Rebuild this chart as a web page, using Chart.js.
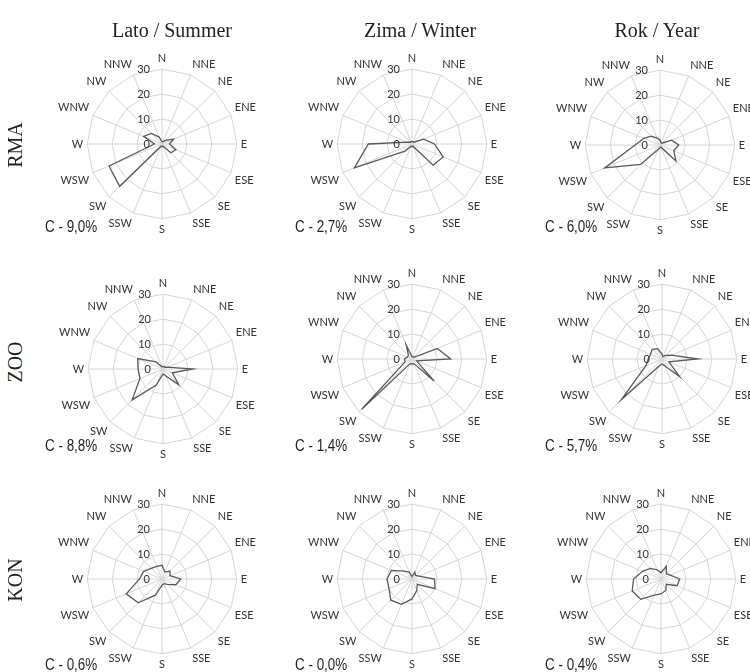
<!DOCTYPE html>
<html><head><meta charset="utf-8">
<script src="https://cdn.jsdelivr.net/npm/chart.js@4.4.0/dist/chart.umd.min.js"></script>
<style>
html,body{margin:0;padding:0;width:750px;height:672px;overflow:hidden;background:#fff;position:relative;}
.box{position:absolute;}
.title{position:absolute;font-family:"Liberation Serif",serif;font-size:20px;color:#231f20;transform:translate(-50%,-50%);white-space:nowrap;}
.row{position:absolute;font-family:"Liberation Serif",serif;font-size:20px;color:#231f20;transform:translate(-50%,-50%) rotate(-90deg);white-space:nowrap;}
.calm{position:absolute;font-family:"Liberation Sans",Arial,sans-serif;font-size:16px;color:#231f20;transform:translateY(-50%) scaleX(0.84);transform-origin:0 50%;white-space:nowrap;}
</style></head><body>
<script>
// ---- data ----
const directions = ["N","NNE","NE","ENE","E","ESE","SE","SSE","S","SSW","SW","WSW","W","WNW","NW","NNW"];
const tickValues = [0, 10, 20, 30];
const seasons = ["Lato / Summer", "Zima / Winter", "Rok / Year"];
const stations = ["RMA", "ZOO", "KON"];

const rmaSummer = [1, 1, 2, 5, 3, 6, 5, 1, 1, 1, 24, 23, 3, 8, 6, 3];
const rmaWinter = [1, 1, 1, 5, 9, 13.5, 12, 1, 1, 1, 4, 25, 17.5, 2, 1, 1];
const rmaYear   = [2, 1, 1, 5, 7.5, 6, 9, 1, 1, 2, 11, 24, 10, 7, 5, 3];
const zooSummer = [1, 1, 1, 2, 12, 4, 9, 3, 2, 7, 17.5, 10, 10, 11, 4, 1];
const zooWinter = [1, 1, 1, 11, 15.5, 2, 12.5, 2, 2, 2, 28.5, 3, 3, 2, 2, 6];
const zooYear   = [2, 1, 2, 4, 14.5, 3, 10, 3, 2, 3, 23, 7, 5.5, 5, 5.5, 4.5];
const konSummer = [5.5, 3, 4.5, 3.5, 7.5, 6, 3, 2, 2.5, 7, 13.5, 15.5, 9, 8, 6, 5.5];
const konWinter = [1, 3, 2, 3, 9, 10, 3, 5, 8, 11, 12, 10, 10, 9, 4.5, 3];
const konYear   = [2.5, 5.5, 3, 4, 7.5, 7, 3, 5, 6, 7, 11.5, 12.5, 11, 8, 6, 4];

const calmRMA = ["C - 9,0%", "C - 2,7%", "C - 6,0%"];
const calmZOO = ["C - 8,8%", "C - 1,4%", "C - 5,7%"];
const calmKON = ["C - 0,6%", "C - 0,0%", "C - 0,4%"];

// ---- layout (positions only) ----
const seriesGrid = [
  [rmaSummer, rmaWinter, rmaYear],
  [zooSummer, zooWinter, zooYear],
  [konSummer, konWinter, konYear]
];
const calmGrid = [calmRMA, calmZOO, calmKON];
const centers = [
  [[162, 144], [412, 144], [660, 145]],
  [[163, 369], [412, 359], [662, 359]],
  [[162, 579], [412, 579], [661, 579]]
];
const calmPos = [
  [[45, 227], [295, 227], [545, 227]],
  [[45, 446], [295, 446], [545, 446]],
  [[45, 665], [295, 665], [545, 665]]
];
const titleX = [172, 420, 657];
const rowY = [145, 362, 580];
const CANVAS = 208;
const labelFont = 'Lato';
const labelSize = 11;

function addText(cls, txt, x, y) {
  const d = document.createElement('div');
  d.className = cls; d.textContent = txt;
  d.style.left = x + 'px'; d.style.top = y + 'px';
  document.body.appendChild(d);
}

const tickLabelPlugin = {
  id: 'tickLabels',
  afterDraw(chart) {
    const s = chart.scales.r, ctx = chart.ctx;
    ctx.save();
    ctx.font = labelSize + 'px ' + labelFont;
    ctx.fillStyle = '#333333';
    ctx.textAlign = 'right';
    ctx.textBaseline = 'middle';
    tickValues.forEach(v => {
      ctx.fillText(String(v), s.xCenter - 12, s.yCenter - s.getDistanceFromCenterForValue(v));
    });
    ctx.restore();
  }
};

for (let r = 0; r < 3; r++) {
  for (let c = 0; c < 3; c++) {
    const box = document.createElement('div');
    box.className = 'box';
    const cv = document.createElement('canvas');
    cv.width = CANVAS; cv.height = CANVAS;
    cv.style.width = CANVAS + 'px'; cv.style.height = CANVAS + 'px';
    box.appendChild(cv);
    document.body.appendChild(box);
    const chart = new Chart(cv, {
      type: 'radar',
      data: {
        labels: directions,
        datasets: [{
          data: seriesGrid[r][c],
          borderColor: '#5a5a5a',
          borderWidth: 1.3,
          fill: false,
          pointRadius: 0,
          pointHoverRadius: 0,
          tension: 0
        }]
      },
      options: {
        responsive: false,
        animation: false,
        plugins: { legend: { display: false }, tooltip: { enabled: false } },
        scales: {
          r: {
            min: 0, max: 30,
            ticks: { display: false, stepSize: 10 },
            grid: { color: '#d6d6d6', lineWidth: 1 },
            angleLines: { color: '#d6d6d6', lineWidth: 1 },
            pointLabels: { font: { family: labelFont, size: labelSize }, color: '#333333', padding: 4 }
          }
        }
      },
      plugins: [tickLabelPlugin]
    });
    const s = chart.scales.r;
    box.style.left = (centers[r][c][0] - s.xCenter) + 'px';
    box.style.top = (centers[r][c][1] - s.yCenter) + 'px';
    addText('calm', calmGrid[r][c], calmPos[r][c][0], calmPos[r][c][1]);
  }
}
seasons.forEach((t, i) => addText('title', t, titleX[i], 30));
stations.forEach((t, i) => addText('row', t, 15, rowY[i]));
</script>
</body></html>
